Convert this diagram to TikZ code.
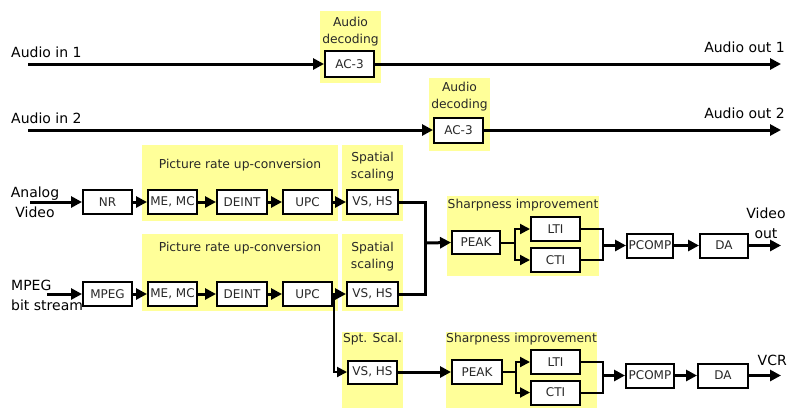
\documentclass[tikz,border=0pt]{standalone}
\usepackage{fontspec}
\setmainfont{DejaVu Sans}
\usetikzlibrary{arrows.meta,positioning}
\definecolor{hl}{RGB}{255,255,153}
\definecolor{boxtext}{RGB}{40,40,40}
\tikzset{
  blk/.style={draw, line width=2pt, fill=white, inner sep=0pt, minimum width=49pt, minimum height=24pt, font=\fontsize{12}{13}\selectfont, text=boxtext},
  title/.style={font=\fontsize{12.3}{17}\selectfont, text=boxtext, inner sep=0pt, align=center},
  lbl/.style={font=\fontsize{14}{20}\selectfont, text=black, inner sep=0pt},
  wire/.style={line width=3pt},
  thin/.style={line width=2pt},
  arr/.style={-{Triangle[length=11pt,width=11pt]}},
  arrs/.style={-{Triangle[length=10pt,width=10pt]}},
}
\begin{document}
\begin{tikzpicture}[x=1pt,y=-1pt]
\useasboundingbox (0,0) rectangle (787,408);
% yellow backgrounds
\fill[hl] (320,11) rectangle (381,83);
\fill[hl] (429,78) rectangle (490,151);
\fill[hl] (142,145) rectangle (338,221);
\fill[hl] (342,145) rectangle (403,221);
\fill[hl] (142,234) rectangle (338,311);
\fill[hl] (342,234) rectangle (403,311);
\fill[hl] (447,196) rectangle (599,276);
\fill[hl] (342,332) rectangle (403,408);
\fill[hl] (446,332) rectangle (597,408);
% titles
\node[title] (t1) at (350.5,31.5) {Audio\\decoding};
\node[title] (t2) at (459.5,97) {Audio\\decoding};
\node[title] (t3) at (240,165) {Picture rate up-conversion};
\node[title] (t4) at (372.5,166.5) {Spatial\\scaling};
\node[title] (t5) at (240,248) {Picture rate up-conversion};
\node[title] (t6) at (372.5,256.5) {Spatial\\scaling};
\node[title] (t7) at (523,205) {Sharpness improvement};
\node[title] (t8) at (372.5,339) {Spt. Scal.};
\node[title] (t9) at (521.5,339) {Sharpness improvement};
% labels
\node[lbl, anchor=west] (ain1) at (11,52) {Audio in 1};
\node[lbl, anchor=east] (aout1) at (785,47) {Audio out 1};
\node[lbl, anchor=west] (ain2) at (11,118) {Audio in 2};
\node[lbl, anchor=east] (aout2) at (785,113) {Audio out 2};
\node[lbl, align=center] (analog) at (35,202.5) {Analog\\Video};
\node[lbl, align=left, anchor=west] (mpegin) at (11,295) {MPEG\\bit stream};
\node[lbl, align=center] (vout) at (766,223.5) {Video\\out};
\node[lbl, anchor=east] (vcr) at (787,360) {VCR};
% coordinates for free ends
\coordinate (a1s) at (28,64);
\coordinate (a1e) at (781,64);
\coordinate (a2s) at (28,130);
\coordinate (a2e) at (781,130);
\coordinate (v1s) at (30,202);
\coordinate (v2s) at (47,294);
\coordinate (o1e) at (781,245.5);
\coordinate (o2e) at (781,375.5);
% blocks
\node[blk, minimum height=26pt] (ac1) at (349.5,64) {AC-3};
\node[blk, minimum height=25pt] (ac2) at (458.5,130) {AC-3};
\node[blk] (nr) at (107.5,202) {NR};
\node[blk] (me1) at (172.5,202) {ME, MC};
\node[blk, minimum width=50pt] (de1) at (242,202) {DEINT};
\node[blk] (upc1) at (307.5,202) {UPC};
\node[blk, minimum width=51pt] (vs1) at (372.5,202) {VS, HS};
\node[blk] (mpeg) at (107.5,294) {MPEG};
\node[blk] (me2) at (172.5,294) {ME, MC};
\node[blk, minimum width=50pt] (de2) at (242,294) {DEINT};
\node[blk] (upc2) at (307.5,294) {UPC};
\node[blk, minimum width=51pt] (vs2) at (372.5,294) {VS, HS};
\node[blk, minimum width=48pt, minimum height=23pt] (pk1) at (476,242.5) {PEAK};
\node[blk] (lti1) at (555.5,229) {LTI};
\node[blk] (cti1) at (555.5,260) {CTI};
\node[blk, minimum width=46pt] (pc1) at (650,245.5) {PCOMP};
\node[blk, minimum width=48pt] (da1) at (724,245.5) {DA};
\node[blk, minimum height=23pt] (vs3) at (372.5,372) {VS, HS};
\node[blk, minimum width=50pt] (pk2) at (477,372) {PEAK};
\node[blk] (lti2) at (555.5,362) {LTI};
\node[blk] (cti2) at (555.5,392.5) {CTI};
\node[blk, minimum width=48pt] (pc2) at (650,375.5) {PCOMP};
\node[blk, minimum width=50pt] (da2) at (723,375.5) {DA};
% audio wires
\draw[wire, arr] (a1s) -- (ac1.west);
\draw[wire, arr] (ac1.east) -- (a1e);
\draw[wire, arr] (a2s) -- (ac2.west);
\draw[wire, arr] (ac2.east) -- (a2e);
% row 1
\draw[wire, arr] (v1s) -- (nr.west);
\draw[wire, arr] (nr) -- (me1);
\draw[wire, arr] (me1) -- (de1);
\draw[wire, arr] (de1) -- (upc1);
\draw[wire, arr] (upc1) -- (vs1);
% row 2
\draw[wire, arr] (v2s) -- (mpeg.west);
\draw[wire, arr] (mpeg) -- (me2);
\draw[wire, arr] (me2) -- (de2);
\draw[wire, arr] (de2) -- (upc2);
\draw[wire, arr] (upc2) -- (vs2);
% merge into output 1
\coordinate (m1) at (425,243);
\draw[wire] (vs1.east) -| (m1) |- (vs2.east);
\draw[wire, arr] (m1) -- (pk1.west);
% sharpness 1
\coordinate (s1) at (515,242.5);
\draw[thin] (pk1.east) -- (s1);
\draw[thin, arrs] (s1) |- (lti1.west);
\draw[thin, arrs] (s1) |- (cti1.west);
\coordinate (j1) at (603,245.5);
\draw[thin] (lti1.east) -| (j1) |- (cti1.east);
\draw[wire, arr] (j1) -- (pc1.west);
\draw[wire, arr] (pc1) -- (da1);
\draw[wire, arr] (da1.east) -- (o1e);
% branch to VCR
\coordinate (b1) at (333.5,294);
\draw[thin, arrs] (b1) |- (vs3.west);
\draw[wire, arr] (vs3) -- (pk2);
\coordinate (s2) at (516,372);
\draw[thin] (pk2.east) -- (s2);
\draw[thin, arrs] (s2) |- (lti2.west);
\draw[thin, arrs] (s2) |- (cti2.west);
\coordinate (j2) at (603,375.5);
\draw[thin] (lti2.east) -| (j2) |- (cti2.east);
\draw[wire, arr] (j2) -- (pc2.west);
\draw[wire, arr] (pc2) -- (da2);
\draw[wire, arr] (da2.east) -- (o2e);
\end{tikzpicture}
\end{document}
